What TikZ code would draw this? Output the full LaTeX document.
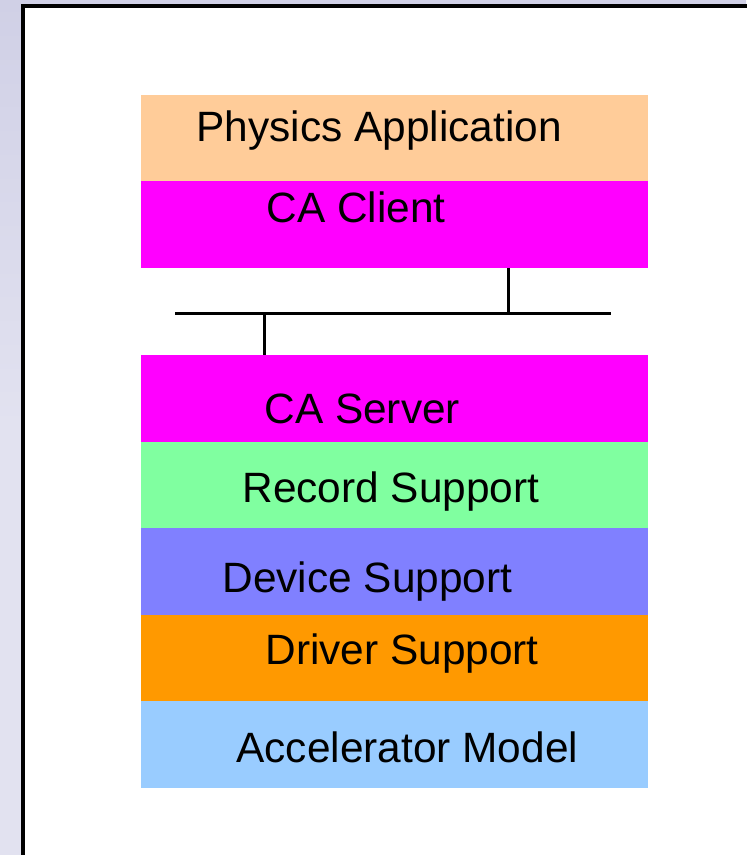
\documentclass[tikz,border=0pt]{standalone}
\usepackage{fontspec}
\setmainfont{Liberation Sans}
\usetikzlibrary{positioning}
\definecolor{appcolor}{RGB}{255,204,153}
\definecolor{cacolor}{RGB}{255,0,255}
\definecolor{recordcolor}{RGB}{128,255,160}
\definecolor{devicecolor}{RGB}{128,128,255}
\definecolor{drivercolor}{RGB}{255,153,0}
\definecolor{modelcolor}{RGB}{153,204,255}
\definecolor{slidetop}{RGB}{208,208,230}
\definecolor{slidebg}{RGB}{226,226,240}

\begin{document}
\begin{tikzpicture}[
    x=0.5pt, y=-0.5pt,
    layer/.style={rectangle, fill=#1, inner sep=0pt, outer sep=0pt,
        minimum width=253.5pt, minimum height=43.25pt},
    tag/.style={anchor=base west, inner sep=0pt,
        font=\fontsize{21.2}{25}\selectfont},
    wire/.style={line width=1.5pt, black}
]
    \useasboundingbox (0,0) rectangle (746,855);

    % Slide background and frame
    \shade[top color=slidetop, bottom color=slidebg, middle color=slidebg]
        (0,0) rectangle (746,855);
    \draw[line width=1.6pt, fill=white] (23,6) rectangle (770,880);

    % Client side
    \node[layer=appcolor, anchor=north west] (app) at (141,95) {};
    \node[layer=cacolor, below=0pt of app] (client) {};

    % Server side
    \node[layer=cacolor, anchor=north west] (server) at (141,355) {};
    \node[layer=recordcolor, below=0pt of server] (record) {};
    \node[layer=devicecolor, below=0pt of record] (device) {};
    \node[layer=drivercolor, below=0pt of device] (driver) {};
    \node[layer=modelcolor, below=0pt of driver] (model) {};

    % Labels
    \node[tag] (appText) at ([shift={(55,47)}]app.north west) {Physics Application};
    \node[tag] (clientText) at ([shift={(125,41)}]client.north west) {CA Client};
    \node[tag] (serverText) at ([shift={(123,68)}]server.north west) {CA Server};
    \node[tag] (recordText) at ([shift={(101,61)}]record.north west) {Record Support};
    \node[tag] (deviceText) at ([shift={(81,64)}]device.north west) {Device Support};
    \node[tag] (driverText) at ([shift={(124,50)}]driver.north west) {Driver Support};
    \node[tag] (modelText) at ([shift={(95,61)}]model.north west) {Accelerator Model};

    % Network bus
    \coordinate (busW) at (175,313);
    \coordinate (busE) at (611,313);
    \coordinate (tapC) at (508,313);
    \coordinate (tapS) at (264,313);
    \draw[wire] (busW) -- (busE);
    \draw[wire] (client.south -| tapC) -- (tapC);
    \draw[wire] (tapS) -- (tapS |- server.north);

\end{tikzpicture}
\end{document}
